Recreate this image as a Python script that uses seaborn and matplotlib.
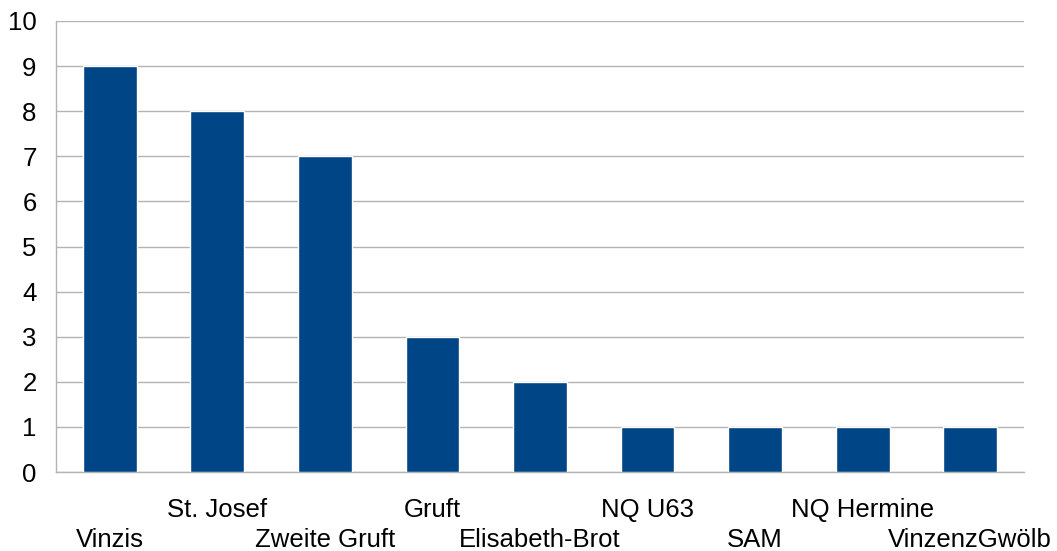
import numpy as np
import pandas as pd
import seaborn as sns
import matplotlib.pyplot as plt

sns.set_style("white")
plt.rcParams['font.family'] = ['Liberation Sans', 'DejaVu Sans']

# data
places = ['Vinzis', 'St. Josef', 'Zweite Gruft', 'Gruft', 'Elisabeth-Brot',
          'NQ U63', 'SAM', 'NQ Hermine', 'VinzenzGwölb']
counts = [9, 8, 7, 3, 2, 1, 1, 1, 1]

df = pd.DataFrame({'place': places, 'count': counts})

fig = plt.figure(figsize=(10.57, 5.51), dpi=100)
ax = fig.add_axes([56/1057, 79/551, (1024-56)/1057, (472-21)/551])

sns.barplot(data=df, x='place', y='count', color='#004586', width=0.5,
            saturation=1, ax=ax, zorder=3)

ax.set_ylim(0, 10)
ax.set_xlim(-0.5, len(places) - 0.5)
ax.set_yticks(range(0, 11))
ax.yaxis.grid(True, color='#b3b3b3', linewidth=1)
ax.set_axisbelow(True)

ax.set_xticks(range(len(places)))
ax.set_xticklabels(places)
ax.set_xticks(np.arange(-0.5, len(places), 1), minor=True)
ax.tick_params(axis='x', which='major', length=0, pad=19, labelsize=18.5,
               labelcolor='black')
ax.tick_params(axis='x', which='minor', length=10, color='#b3b3b3', width=1)
ax.tick_params(axis='y', length=11, color='#b3b3b3', width=1, labelsize=18.5,
               pad=3, labelcolor='black')

# staggered category labels: every other one drops to a second row
for i, t in enumerate(ax.xaxis.get_major_ticks()):
    if i % 2 == 0:
        t.set_pad(40.5)

for s in ['top', 'right']:
    ax.spines[s].set_visible(False)
for s in ['left', 'bottom']:
    ax.spines[s].set_color('#b3b3b3')
    ax.spines[s].set_linewidth(1)

ax.set_xlabel('')
ax.set_ylabel('')

fig.savefig('out.png', dpi=100)
